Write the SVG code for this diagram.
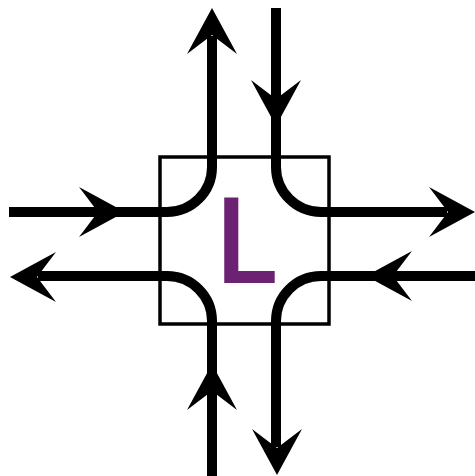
<svg xmlns="http://www.w3.org/2000/svg" xmlns:xlink="http://www.w3.org/1999/xlink" width="475" height="476" viewBox="0 0 475 476">
  <style>
    .road { fill: none; stroke: #000; stroke-width: 10; }
    .box { fill: #fff; stroke: #000; stroke-width: 3.5; }
    .head { fill: #000; }
    .label { font-family: "Open Sans", "Liberation Sans", sans-serif; font-weight: 600; font-size: 120px; fill: #6B2272; }
  </style>
  <defs>
    <path id="ah" class="head" d="M0,0 L-46,-25 L-27,0 L-46,25 Z"/>
  </defs>
  <rect width="475" height="476" fill="#fff"/>
  <g id="junction">
    <rect class="box" x="160" y="157" width="169" height="167"/>
    <text class="label" x="213" y="283">L</text>
  </g>
  <g id="connectors">
    <path class="road" d="M9,212 H167 A45,45 0 0 0 212,167 V36"/>
    <path class="road" d="M276,8 V167 A45,45 0 0 0 321,212 H447"/>
    <path class="road" d="M475,276 H321 A45,45 0 0 0 276,321 V447"/>
    <path class="road" d="M212,476 V321 A45,45 0 0 0 167,276 H38"/>
    <use xlink:href="#ah" transform="translate(212,8) rotate(-90)"/>
    <use xlink:href="#ah" transform="translate(276,126) rotate(90)"/>
    <use xlink:href="#ah" transform="translate(125,212)"/>
    <use xlink:href="#ah" transform="translate(475,212)"/>
    <use xlink:href="#ah" transform="translate(366,276) rotate(180)"/>
    <use xlink:href="#ah" transform="translate(10,277) rotate(180)"/>
    <use xlink:href="#ah" transform="translate(212,364) rotate(-90)"/>
    <use xlink:href="#ah" transform="translate(277,475) rotate(90)"/>
  </g>
</svg>
